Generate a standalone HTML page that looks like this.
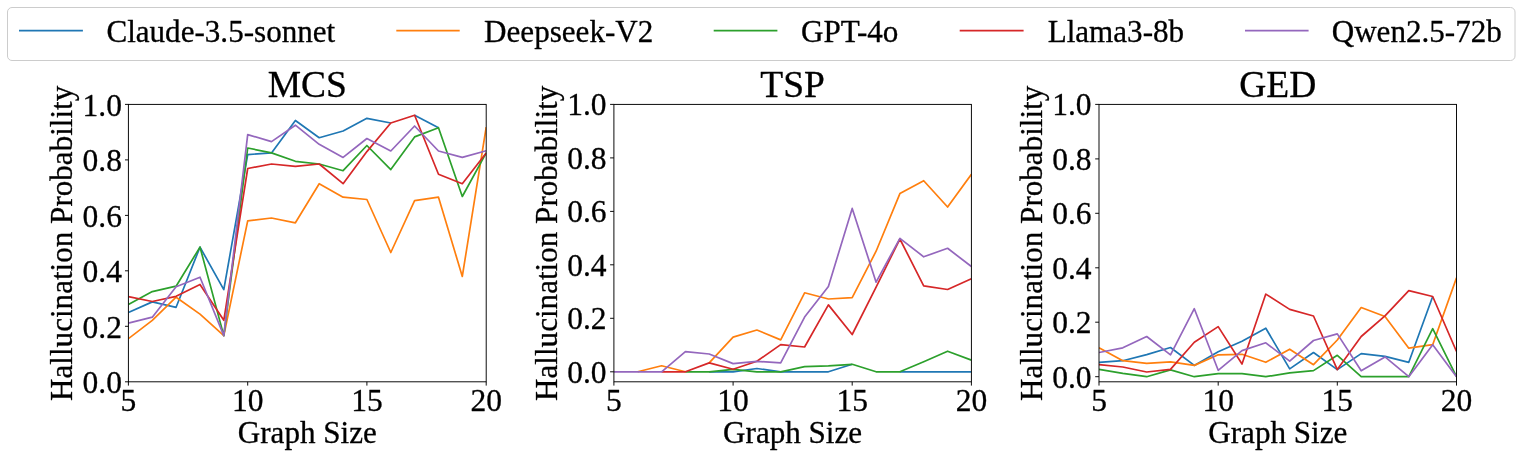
<!DOCTYPE html>
<html lang="en"><head><meta charset="utf-8"><title>Hallucination Probability vs Graph Size</title>
<style>html,body{margin:0;padding:0;background:#fff}svg{display:block}text{font-family:"Liberation Serif", "DejaVu Serif", serif;fill:#000;stroke:#000;stroke-width:0.3px;stroke-linejoin:round}</style></head><body>
<svg width="1522" height="457" viewBox="0 0 1522 457">
<rect x="0" y="0" width="1522" height="457" fill="#ffffff"/>
<rect x="7.5" y="7.5" width="1507.5" height="53.0" rx="4.5" ry="4.5" fill="#ffffff" stroke="#cccccc" stroke-width="1"/>
<line x1="19.0" y1="30.60" x2="82.9" y2="30.60" stroke="#1f77b4" stroke-width="1.70"/>
<text x="106.4" y="41.8" font-size="31.10">Claude-3.5-sonnet</text>
<line x1="396.3" y1="30.60" x2="459.7" y2="30.60" stroke="#ff7f0e" stroke-width="1.70"/>
<text x="484.1" y="41.8" font-size="31.10">Deepseek-V2</text>
<line x1="713.7" y1="30.60" x2="777.4" y2="30.60" stroke="#2ca02c" stroke-width="1.70"/>
<text x="801.0" y="41.8" font-size="31.10">GPT-4o</text>
<line x1="959.7" y1="30.60" x2="1023.6" y2="30.60" stroke="#d62728" stroke-width="1.70"/>
<text x="1047.7" y="41.8" font-size="31.10">Llama3-8b</text>
<line x1="1245.0" y1="30.60" x2="1308.6" y2="30.60" stroke="#9467bd" stroke-width="1.70"/>
<text x="1331.7" y="41.8" font-size="31.10">Qwen2.5-72b</text>
<clipPath id="c0"><rect x="128.4" y="104.4" width="357.8" height="277.4"/></clipPath>
<g clip-path="url(#c0)" fill="none" stroke-width="1.70" stroke-linejoin="round" stroke-linecap="butt">
<polyline stroke="#1f77b4" points="128.4,312.5 152.3,301.9 176.1,307.3 200.0,247.1 223.8,289.7 247.7,154.6 271.5,152.9 295.4,120.5 319.2,137.7 343.1,131.0 366.9,118.3 390.8,123.0"/>
<polyline stroke="#1f77b4" points="414.6,115.2 438.5,127.7"/>
<polyline stroke="#ff7f0e" points="128.4,338.7 152.3,320.3 176.1,297.2 200.0,314.1 223.8,335.6 247.7,220.8 271.5,218.0 295.4,222.8 319.2,183.7 343.1,197.2 366.9,199.5 390.8,252.5 414.6,200.7 438.5,197.2 462.3,276.4 486.2,127.1"/>
<polyline stroke="#2ca02c" points="128.4,304.5 152.3,291.6 176.1,286.2 200.0,247.1 223.8,335.6 247.7,148.0 271.5,152.9 295.4,161.3 319.2,164.0 343.1,170.7 366.9,145.5 390.8,169.6 414.6,136.9 438.5,127.7 462.3,196.5 486.2,152.9"/>
<polyline stroke="#d62728" points="128.4,296.7 152.3,301.5 176.1,296.3 200.0,284.5 223.8,320.3 247.7,168.5 271.5,164.0 295.4,166.3 319.2,164.0 343.1,183.7 366.9,151.6 390.8,123.0 414.6,115.2 438.5,174.3 462.3,183.7 486.2,152.9"/>
<polyline stroke="#9467bd" points="128.4,323.1 152.3,317.2 176.1,286.7 200.0,277.2 223.8,335.6 247.7,134.6 271.5,141.6 295.4,125.2 319.2,144.3 343.1,157.4 366.9,138.5 390.8,151.0 414.6,126.0 438.5,151.0 462.3,157.4 486.2,150.7"/>
</g>
<rect x="128.4" y="104.4" width="357.8" height="277.4" fill="none" stroke="#000" stroke-width="0.95"/>
<path d="M128.4 381.8v3.8M247.7 381.8v3.8M366.9 381.8v3.8M486.2 381.8v3.8M128.4 381.8h-3.4M128.4 326.3h-3.4M128.4 270.8h-3.4M128.4 215.4h-3.4M128.4 159.9h-3.4M128.4 104.4h-3.4" stroke="#000" stroke-width="0.95" fill="none"/>
<text x="128.4" y="410.5" font-size="31.50" text-anchor="middle">5</text>
<text x="247.7" y="410.5" font-size="31.50" text-anchor="middle">10</text>
<text x="366.9" y="410.5" font-size="31.50" text-anchor="middle">15</text>
<text x="486.2" y="410.5" font-size="31.50" text-anchor="middle">20</text>
<text x="121.9" y="393.1" font-size="31.50" text-anchor="end">0.0</text>
<text x="121.9" y="337.6" font-size="31.50" text-anchor="end">0.2</text>
<text x="121.9" y="282.1" font-size="31.50" text-anchor="end">0.4</text>
<text x="121.9" y="226.7" font-size="31.50" text-anchor="end">0.6</text>
<text x="121.9" y="171.2" font-size="31.50" text-anchor="end">0.8</text>
<text x="121.9" y="115.7" font-size="31.50" text-anchor="end">1.0</text>
<text x="307.3" y="96.8" font-size="37.50" text-anchor="middle">MCS</text>
<text x="307.3" y="443.0" font-size="31.10" text-anchor="middle">Graph Size</text>
<text transform="translate(71.5 243.3) rotate(-90)" font-size="31.10" text-anchor="middle">Hallucination Probability</text>
<clipPath id="c1"><rect x="613.9" y="104.4" width="357.5" height="277.4"/></clipPath>
<g clip-path="url(#c1)" fill="none" stroke-width="1.70" stroke-linejoin="round" stroke-linecap="butt">
<polyline stroke="#1f77b4" points="709.2,371.8 733.1,371.8 756.9,368.5 780.7,371.8 804.6,371.8 828.4,371.8 852.2,364.3"/>
<polyline stroke="#1f77b4" points="899.9,371.8 923.7,371.8 947.6,371.8 971.4,371.8"/>
<polyline stroke="#ff7f0e" points="637.7,371.8 661.6,365.8 685.4,371.8"/>
<polyline stroke="#ff7f0e" points="709.2,362.9 733.1,337.1 756.9,330.0 780.7,339.9 804.6,292.8 828.4,299.0 852.2,297.6 876.1,251.2 899.9,193.6 923.7,180.7 947.6,207.0 971.4,174.3"/>
<polyline stroke="#2ca02c" points="685.4,371.8 709.2,371.8 733.1,369.3 756.9,371.8 780.7,371.8 804.6,366.7 828.4,365.8 852.2,364.3 876.1,371.8 899.9,371.8 923.7,361.8 947.6,351.2 971.4,360.1"/>
<polyline stroke="#d62728" points="661.6,371.8 685.4,371.8 709.2,362.9 733.1,369.3 756.9,361.3 780.7,344.6 804.6,347.0 828.4,304.9 852.2,334.5 876.1,287.2 899.9,239.0 923.7,285.8 947.6,289.5 971.4,278.7"/>
<polyline stroke="#9467bd" points="613.9,371.8 637.7,371.8 661.6,371.8 685.4,351.7 709.2,354.0 733.1,363.6 756.9,361.3 780.7,362.9 804.6,317.1 828.4,286.5 852.2,208.4 876.1,282.2 899.9,238.3 923.7,256.8 947.6,248.3 971.4,266.5"/>
</g>
<rect x="613.9" y="104.4" width="357.5" height="277.4" fill="none" stroke="#000" stroke-width="0.95"/>
<path d="M613.9 381.8v3.8M733.1 381.8v3.8M852.2 381.8v3.8M971.4 381.8v3.8M613.9 371.8h-3.8M613.9 318.3h-3.8M613.9 264.8h-3.8M613.9 211.4h-3.8M613.9 157.9h-3.8M613.9 104.4h-3.8" stroke="#000" stroke-width="0.95" fill="none"/>
<text x="613.9" y="410.5" font-size="31.50" text-anchor="middle">5</text>
<text x="733.1" y="410.5" font-size="31.50" text-anchor="middle">10</text>
<text x="852.2" y="410.5" font-size="31.50" text-anchor="middle">15</text>
<text x="971.4" y="410.5" font-size="31.50" text-anchor="middle">20</text>
<text x="606.5" y="382.8" font-size="31.50" text-anchor="end">0.0</text>
<text x="606.5" y="329.3" font-size="31.50" text-anchor="end">0.2</text>
<text x="606.5" y="275.8" font-size="31.50" text-anchor="end">0.4</text>
<text x="606.5" y="222.4" font-size="31.50" text-anchor="end">0.6</text>
<text x="606.5" y="168.9" font-size="31.50" text-anchor="end">0.8</text>
<text x="606.5" y="115.4" font-size="31.50" text-anchor="end">1.0</text>
<text x="792.6" y="96.8" font-size="37.50" text-anchor="middle">TSP</text>
<text x="792.6" y="443.0" font-size="31.10" text-anchor="middle">Graph Size</text>
<text transform="translate(557.0 243.3) rotate(-90)" font-size="31.10" text-anchor="middle">Hallucination Probability</text>
<clipPath id="c2"><rect x="1099.0" y="104.4" width="357.5" height="277.4"/></clipPath>
<g clip-path="url(#c2)" fill="none" stroke-width="1.70" stroke-linejoin="round" stroke-linecap="butt">
<polyline stroke="#1f77b4" points="1099.0,362.3 1122.8,360.7 1146.7,354.6 1170.5,347.5 1194.3,365.4 1218.2,351.8 1242.0,341.2 1265.8,328.2 1289.7,368.9 1313.5,352.5 1337.3,369.6 1361.2,353.6 1385.0,356.4 1408.8,362.3 1432.7,296.5"/>
<polyline stroke="#ff7f0e" points="1099.0,347.8 1122.8,360.7 1146.7,363.3 1170.5,361.9 1194.3,365.4 1218.2,354.8 1242.0,354.3 1265.8,362.3 1289.7,349.2 1313.5,364.7 1337.3,340.0 1361.2,307.5 1385.0,316.5 1408.8,348.2 1432.7,344.7 1456.5,277.9"/>
<polyline stroke="#2ca02c" points="1099.0,369.4 1122.8,373.4 1146.7,376.7 1170.5,369.9 1194.3,376.7 1218.2,373.6 1242.0,373.6 1265.8,376.7 1289.7,372.9 1313.5,370.6 1337.3,355.3 1361.2,376.7 1385.0,376.7 1408.8,376.7 1432.7,328.7 1456.5,376.7"/>
<polyline stroke="#d62728" points="1099.0,364.7 1122.8,367.0 1146.7,372.0 1170.5,369.4 1194.3,342.3 1218.2,326.6 1242.0,364.0 1265.8,294.1 1289.7,309.4 1313.5,316.0 1337.3,369.6 1361.2,336.5 1385.0,315.8 1408.8,290.6 1432.7,296.5 1456.5,351.5"/>
<polyline stroke="#9467bd" points="1099.0,352.5 1122.8,347.8 1146.7,336.5 1170.5,354.8 1194.3,308.7 1218.2,370.3 1242.0,350.6 1265.8,342.8 1289.7,361.2 1313.5,340.5 1337.3,333.9 1361.2,370.8 1385.0,356.9 1408.8,376.7 1432.7,344.7 1456.5,376.7"/>
</g>
<rect x="1099.0" y="104.4" width="357.5" height="277.4" fill="none" stroke="#000" stroke-width="0.95"/>
<path d="M1099.0 381.8v3.8M1218.2 381.8v3.8M1337.3 381.8v3.8M1456.5 381.8v3.8M1099.0 376.7h-3.8M1099.0 322.2h-3.8M1099.0 267.8h-3.8M1099.0 213.3h-3.8M1099.0 158.9h-3.8M1099.0 104.4h-3.8" stroke="#000" stroke-width="0.95" fill="none"/>
<text x="1099.0" y="410.5" font-size="31.50" text-anchor="middle">5</text>
<text x="1218.2" y="410.5" font-size="31.50" text-anchor="middle">10</text>
<text x="1337.3" y="410.5" font-size="31.50" text-anchor="middle">15</text>
<text x="1456.5" y="410.5" font-size="31.50" text-anchor="middle">20</text>
<text x="1091.6" y="387.7" font-size="31.50" text-anchor="end">0.0</text>
<text x="1091.6" y="333.2" font-size="31.50" text-anchor="end">0.2</text>
<text x="1091.6" y="278.8" font-size="31.50" text-anchor="end">0.4</text>
<text x="1091.6" y="224.3" font-size="31.50" text-anchor="end">0.6</text>
<text x="1091.6" y="169.9" font-size="31.50" text-anchor="end">0.8</text>
<text x="1091.6" y="115.4" font-size="31.50" text-anchor="end">1.0</text>
<text x="1277.8" y="96.8" font-size="37.50" text-anchor="middle">GED</text>
<text x="1277.8" y="443.0" font-size="31.10" text-anchor="middle">Graph Size</text>
<text transform="translate(1042.1 243.3) rotate(-90)" font-size="31.10" text-anchor="middle">Hallucination Probability</text>
</svg></body></html>
